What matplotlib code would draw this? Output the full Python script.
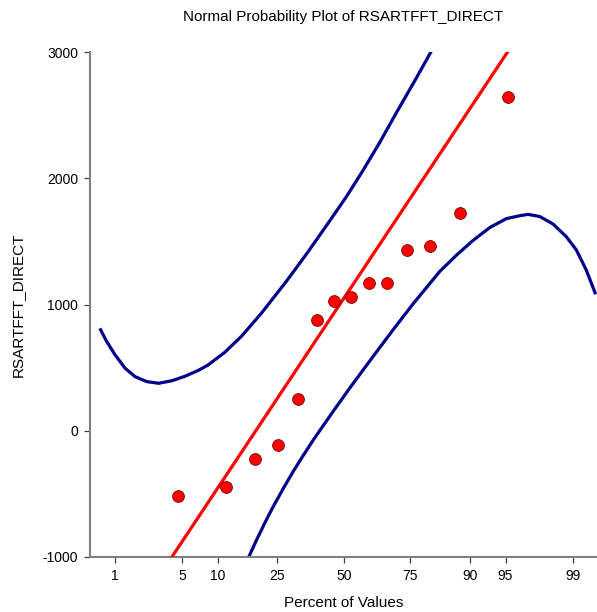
import matplotlib
matplotlib.use("Agg")
import matplotlib.pyplot as plt
import numpy as np
from statistics import NormalDist

plt.rcParams['font.family'] = ['Liberation Sans', 'DejaVu Sans']

# ---- data ----
title = "Normal Probability Plot of RSARTFFT_DIRECT"
x_label = "Percent of Values"
y_label = "RSARTFFT_DIRECT"

pct_ticks = [1, 5, 10, 25, 50, 75, 90, 95, 99]
y_ticks = [-1000, 0, 1000, 2000, 3000]

# normal scores (z) of the points and their values
point_z = [-1.690, -1.202, -0.904, -0.668, -0.464, -0.277, -0.100,
           0.078, 0.254, 0.440, 0.643, 0.881, 1.182, 1.667]
point_y = [-517, -446, -224, -115, 254, 877, 1024,
           1059, 1170, 1170, 1429, 1466, 1722, 2641]

# reference line
fit_intercept = 1048
fit_slope = 1172

# upper confidence band
upper_z = [-2.480, -2.409, -2.324, -2.223, -2.121, -2.002, -1.883, -1.748,
           -1.613, -1.479, -1.379, -1.209, -1.040, -0.836, -0.582, -0.379,
           -0.176, 0.027, 0.196, 0.366, 0.536, 0.739, 0.893]
upper_y = [811, 705, 600, 495, 428, 389, 376, 396,
           432, 478, 521, 622, 748, 932, 1185, 1400,
           1625, 1854, 2062, 2284, 2520, 2795, 3010]

# lower confidence band
lower_z = [-0.966, -0.887, -0.803, -0.718, -0.617, -0.515, -0.414, -0.312,
           -0.211, -0.109, 0.061, 0.298, 0.501, 0.704, 0.976, 1.145,
           1.314, 1.484, 1.653, 1.789, 1.873, 1.992, 2.127, 2.263,
           2.365, 2.466, 2.561]
lower_y = [-1000, -866, -731, -602, -460, -324, -198, -76,
           38, 152, 338, 588, 799, 1004, 1262, 1390,
           1507, 1609, 1680, 1703, 1714, 1697, 1638, 1537,
           1432, 1273, 1081]

# ---- figure ----
W, H = 597, 612
fig = plt.figure(figsize=(W / 100, H / 100), dpi=100)
ax = fig.add_axes([90 / W, 1 - 557 / H, (W - 90) / W, (557 - 52) / H])

xlim = (-2.58, 2.575)
ax.set_xlim(*xlim)
ax.set_ylim(-1000, 3000)

band_color = '#00008B'
ax.plot(upper_z, upper_y, color=band_color, lw=2.3, solid_joinstyle='round',
        solid_capstyle='butt', zorder=2)
ax.plot(lower_z, lower_y, color=band_color, lw=2.3, solid_joinstyle='round',
        solid_capstyle='butt', zorder=2)

xs = np.array(xlim)
ax.plot(xs, fit_intercept + fit_slope * xs, color='#FF0000', lw=2.3, zorder=3)

ax.plot(point_z, point_y, 'o', ms=8.5, mfc='#FF0000', mec='#7A0000', mew=0.6,
        zorder=4, clip_on=False)

nd = NormalDist()
ax.set_xticks([nd.inv_cdf(p / 100) for p in pct_ticks])
ax.set_xticklabels([str(p) for p in pct_ticks])
ax.set_yticks(y_ticks)
ax.set_yticklabels([str(v) for v in y_ticks])

for s in ['top', 'right']:
    ax.spines[s].set_visible(False)
for s in ['left', 'bottom']:
    ax.spines[s].set_color('#808080')
    ax.spines[s].set_linewidth(1.5)

ax.tick_params(axis='both', direction='out', length=4, width=0.9,
               color='#404040', labelsize=10, labelcolor='black', pad=4.5)

fig.text((90 + W) / 2 / W, 1 - 17 / H, title, ha='center', va='center', fontsize=11)
fig.text((90 + W) / 2 / W, 1 - 603 / H, x_label, ha='center', va='center', fontsize=11)
fig.text(18 / W, 1 - 305 / H, y_label, ha='center', va='center', rotation=90, fontsize=11)

fig.savefig('out.png', dpi=100)
